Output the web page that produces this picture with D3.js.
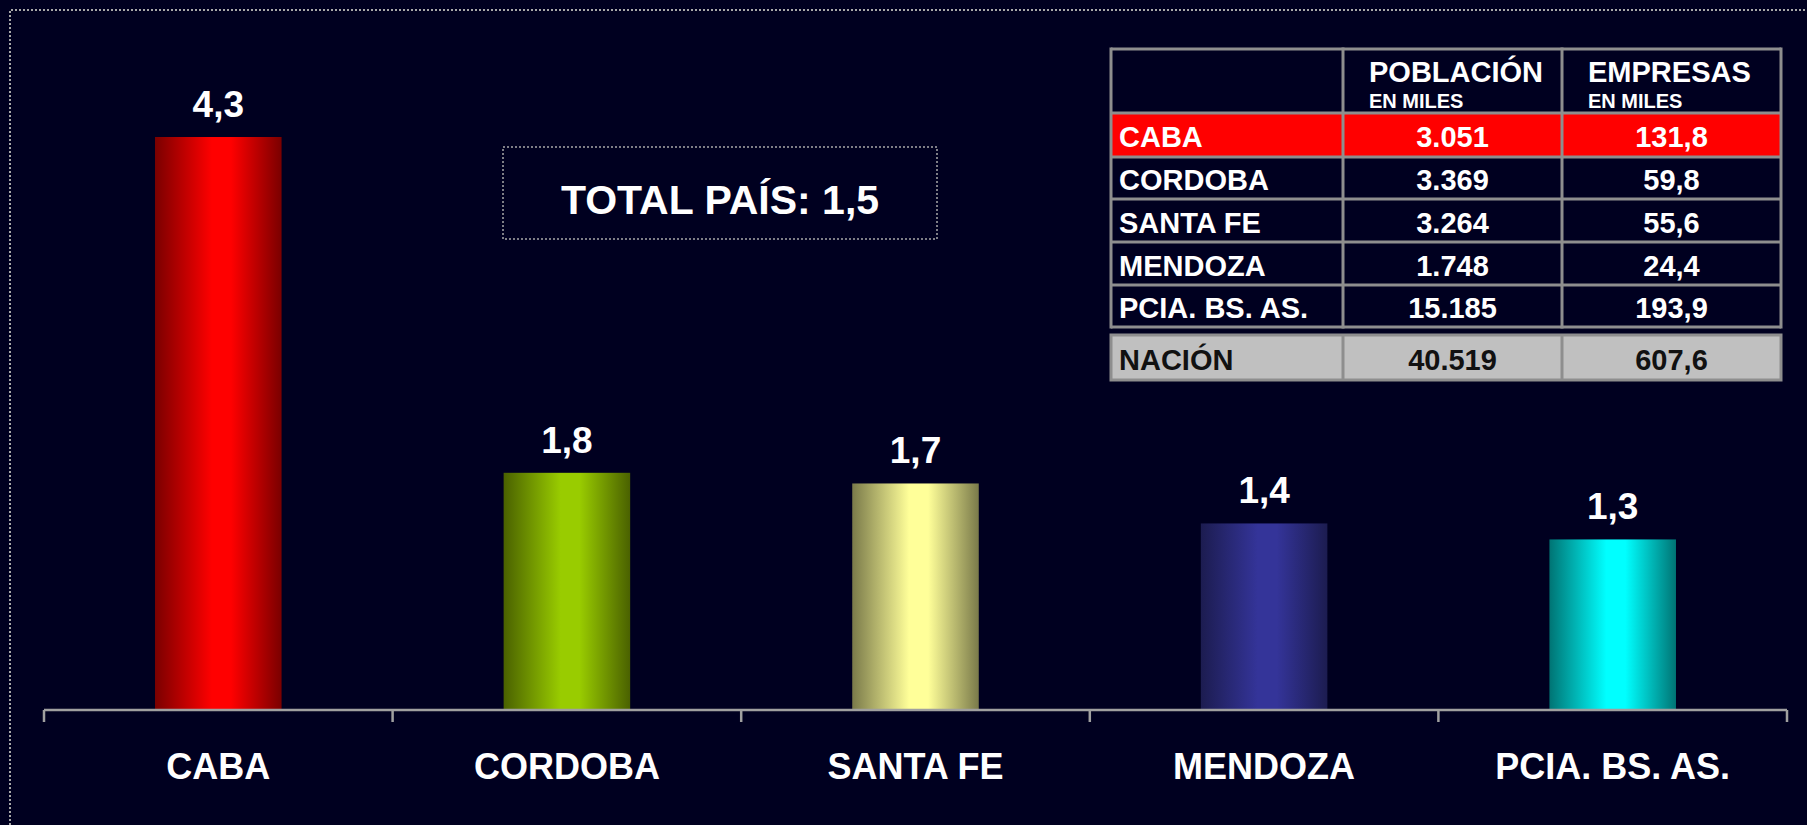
<!DOCTYPE html>
<html>
<head>
<meta charset="utf-8">
<script src="https://cdn.jsdelivr.net/npm/d3@7"></script>
<style>
  html, body { margin: 0; padding: 0; background: #000020; overflow: hidden; }
  text { font-family: "Liberation Sans", Arial, sans-serif; font-weight: bold; }
</style>
</head>
<body>
<div id="grafica"></div>
<script>
// datos
var categorias = ['CABA', 'CORDOBA', 'SANTA FE', 'MENDOZA', 'PCIA. BS. AS.'];
var valores = [4.3, 1.78, 1.70, 1.40, 1.28];
var totalPais = 1.5;

var filasTabla = ['CABA', 'CORDOBA', 'SANTA FE', 'MENDOZA', 'PCIA. BS. AS.'];
var poblacion = [3051, 3369, 3264, 1748, 15185];
var empresas = [131.8, 59.8, 55.6, 24.4, 193.9];
var nacion = { nombre: 'NACIÓN', poblacion: 40519, empresas: 607.6 };
var encabezados = [['POBLACIÓN', 'EN MILES'], ['EMPRESAS', 'EN MILES']];

var es = d3.formatLocale({ decimal: ',', thousands: '.', grouping: [3], currency: ['$', ''] });
var fmtMiles = es.format(',d');
var fmtDec = es.format(',.1f');

var W = 1807, H = 825;

var svg = d3.select('#grafica').append('svg')
  .attr('width', W).attr('height', H);

svg.append('rect').attr('width', W).attr('height', H).attr('fill', '#000020');

// borde punteado
svg.append('path')
  .attr('d', 'M10,' + H + ' L10,10 L' + W + ',10')
  .attr('fill', 'none')
  .attr('stroke', '#a8a8a8')
  .attr('stroke-width', 2)
  .attr('stroke-dasharray', '2,2');

// colores de las barras: [borde oscuro, centro claro]
var colores = [
  ['#7a0000', '#ff0000'],
  ['#4a6100', '#99cc00'],
  ['#7a7a4a', '#ffff99'],
  ['#1c1c50', '#343499'],
  ['#007474', '#00ffff']
];

var defs = svg.append('defs');
colores.forEach(function(c, i) {
  var g = defs.append('linearGradient')
    .attr('id', 'grad' + i)
    .attr('x1', '0%').attr('x2', '100%').attr('y1', '0%').attr('y2', '0%');
  g.append('stop').attr('offset', '0%').attr('stop-color', c[0]);
  g.append('stop').attr('offset', '45%').attr('stop-color', c[1]);
  g.append('stop').attr('offset', '60%').attr('stop-color', c[1]);
  g.append('stop').attr('offset', '100%').attr('stop-color', c[0]);
});

var x = d3.scaleBand()
  .domain(categorias)
  .range([44, 1787]);

var y = d3.scaleLinear()
  .domain([0, 4.3])
  .range([710, 137]);

var anchoBarra = x.bandwidth() * 0.363;

var datos = categorias.map(function(c, i) { return { cat: c, val: valores[i], i: i }; });

svg.selectAll('rect.barra')
  .data(datos)
  .enter().append('rect')
  .attr('class', 'barra')
  .attr('x', function(d) { return x(d.cat) + x.bandwidth() / 2 - anchoBarra / 2; })
  .attr('y', function(d) { return y(d.val); })
  .attr('width', anchoBarra)
  .attr('height', function(d) { return y(0) - y(d.val); })
  .attr('fill', function(d) { return 'url(#grad' + d.i + ')'; });

svg.selectAll('text.valor')
  .data(datos)
  .enter().append('text')
  .attr('class', 'valor')
  .attr('x', function(d) { return x(d.cat) + x.bandwidth() / 2; })
  .attr('y', function(d) { return y(d.val) - 20; })
  .attr('text-anchor', 'middle')
  .attr('fill', '#ffffff')
  .attr('font-size', 37)
  .text(function(d) { return fmtDec(d.val); });

// eje
var eje = svg.append('g');
eje.append('line')
  .attr('x1', 44).attr('x2', 1787)
  .attr('y1', 710).attr('y2', 710)
  .attr('stroke', '#a0a0a0').attr('stroke-width', 2.5);
var bordes = categorias.map(function(c) { return x(c); }).concat([x.range()[1]]);
eje.selectAll('line.tick')
  .data(bordes)
  .enter().append('line')
  .attr('class', 'tick')
  .attr('x1', function(d) { return d; }).attr('x2', function(d) { return d; })
  .attr('y1', 710).attr('y2', 722)
  .attr('stroke', '#a0a0a0').attr('stroke-width', 2.5);
eje.selectAll('text.cat')
  .data(categorias)
  .enter().append('text')
  .attr('class', 'cat')
  .attr('x', function(d) { return x(d) + x.bandwidth() / 2; })
  .attr('y', 779)
  .attr('text-anchor', 'middle')
  .attr('fill', '#ffffff')
  .attr('font-size', 36)
  .text(function(d) { return d; });

// caja total pais
svg.append('rect')
  .attr('x', 503).attr('y', 147)
  .attr('width', 434).attr('height', 92)
  .attr('fill', 'none')
  .attr('stroke', '#a8a8a8')
  .attr('stroke-width', 1.5)
  .attr('stroke-dasharray', '2,2');
svg.append('text')
  .attr('x', 720).attr('y', 214)
  .attr('text-anchor', 'middle')
  .attr('fill', '#ffffff')
  .attr('font-size', 41)
  .text('TOTAL PAÍS: ' + fmtDec(totalPais));

// tabla
var colX = [1111, 1343, 1562, 1781];
var filasY = [113, 157, 199, 242, 285, 327];
var gris = '#8e8e8e';
var tabla = svg.append('g');

// fila CABA en rojo
tabla.append('rect')
  .attr('x', colX[0]).attr('y', filasY[0])
  .attr('width', colX[3] - colX[0]).attr('height', filasY[1] - filasY[0])
  .attr('fill', '#ff0000');

// encabezado
encabezados.forEach(function(e, j) {
  tabla.append('text')
    .attr('x', colX[j + 1] + 26).attr('y', 82)
    .attr('fill', '#ffffff').attr('font-size', 29)
    .text(e[0]);
  tabla.append('text')
    .attr('x', colX[j + 1] + 26).attr('y', 108)
    .attr('fill', '#ffffff').attr('font-size', 20)
    .text(e[1]);
});

filasTabla.forEach(function(f, i) {
  var yc = (filasY[i] + filasY[i + 1]) / 2 + 12;
  tabla.append('text')
    .attr('x', colX[0] + 8).attr('y', yc)
    .attr('fill', '#ffffff').attr('font-size', 29)
    .text(f);
  tabla.append('text')
    .attr('x', (colX[1] + colX[2]) / 2).attr('y', yc)
    .attr('text-anchor', 'middle')
    .attr('fill', '#ffffff').attr('font-size', 29)
    .text(fmtMiles(poblacion[i]));
  tabla.append('text')
    .attr('x', (colX[2] + colX[3]) / 2).attr('y', yc)
    .attr('text-anchor', 'middle')
    .attr('fill', '#ffffff').attr('font-size', 29)
    .text(fmtDec(empresas[i]));
});

// lineas de la tabla
[49].concat(filasY).forEach(function(yy) {
  tabla.append('line')
    .attr('x1', colX[0]).attr('x2', colX[3])
    .attr('y1', yy).attr('y2', yy)
    .attr('stroke', gris).attr('stroke-width', 3);
});
colX.forEach(function(xx) {
  tabla.append('line')
    .attr('x1', xx).attr('x2', xx)
    .attr('y1', 49 - 1.5).attr('y2', 327 + 1.5)
    .attr('stroke', gris).attr('stroke-width', 3);
});

// fila nacion
var yN0 = 335, yN1 = 380;
tabla.append('rect')
  .attr('x', colX[0]).attr('y', yN0)
  .attr('width', colX[3] - colX[0]).attr('height', yN1 - yN0)
  .attr('fill', '#c0c0c0')
  .attr('stroke', gris).attr('stroke-width', 3);
[colX[1], colX[2]].forEach(function(xx) {
  tabla.append('line')
    .attr('x1', xx).attr('x2', xx)
    .attr('y1', yN0).attr('y2', yN1)
    .attr('stroke', gris).attr('stroke-width', 3);
});
var ycN = (yN0 + yN1) / 2 + 12;
tabla.append('text')
  .attr('x', colX[0] + 8).attr('y', ycN)
  .attr('fill', '#111111').attr('font-size', 29)
  .text(nacion.nombre);
tabla.append('text')
  .attr('x', (colX[1] + colX[2]) / 2).attr('y', ycN)
  .attr('text-anchor', 'middle')
  .attr('fill', '#111111').attr('font-size', 29)
  .text(fmtMiles(nacion.poblacion));
tabla.append('text')
  .attr('x', (colX[2] + colX[3]) / 2).attr('y', ycN)
  .attr('text-anchor', 'middle')
  .attr('fill', '#111111').attr('font-size', 29)
  .text(fmtDec(nacion.empresas));
</script>
</body>
</html>
